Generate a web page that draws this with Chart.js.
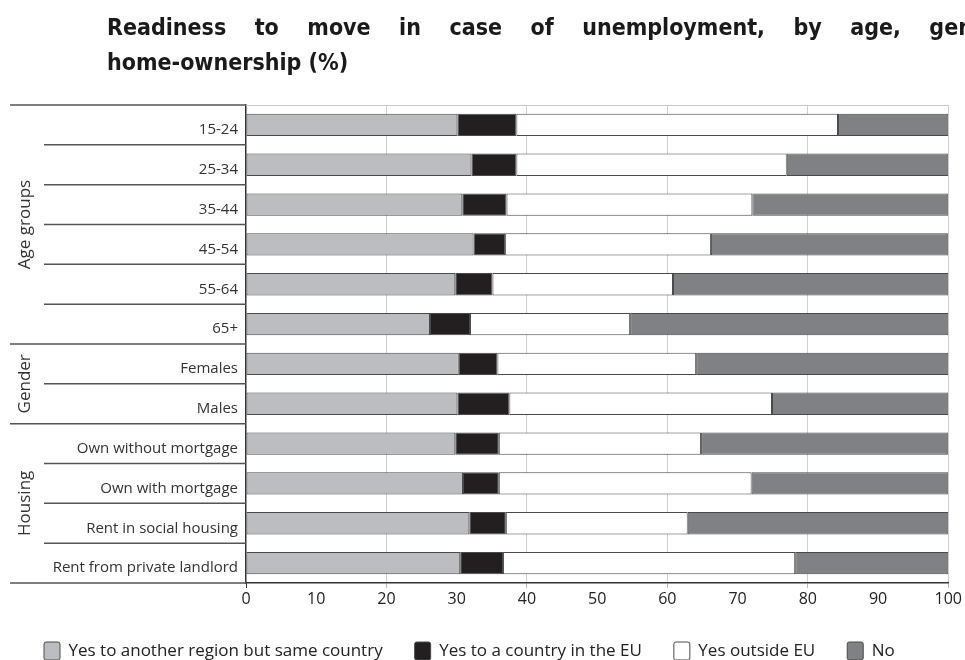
<!DOCTYPE html>
<html>
<head>
<meta charset="utf-8">
<script src="https://cdn.jsdelivr.net/npm/chart.js@4.4.0/dist/chart.umd.min.js"></script>
<style>
  html, body { margin: 0; padding: 0; background: #fff; width: 965px; height: 660px; overflow: hidden; }
  #wrap { position: absolute; left: 0; top: 0; width: 965px; height: 660px; }
  .title { position: absolute; left: 107px; font-family: "Liberation Sans Narrow", "DejaVu Sans Condensed", sans-serif; font-stretch: condensed; font-weight: bold; font-size: 23px; line-height: 34px; color: #1a1a1a; white-space: nowrap; }
  #t1 { top: 10px; width: 977px; text-align: justify; text-align-last: justify; }
  #t2 { top: 45px; }
</style>
</head>
<body>
<div id="wrap"><canvas id="moveChart" width="965" height="660"></canvas></div>
<div class="title" id="t1">Readiness to move in case of unemployment, by age, gender and</div>
<div class="title" id="t2">home-ownership (%)</div>
<script>
const categories = ['15-24', '25-34', '35-44', '45-54', '55-64', '65+',
    'Females', 'Males',
    'Own without mortgage', 'Own with mortgage', 'Rent in social housing', 'Rent from private landlord']
const groupNames = ['Age groups', 'Gender', 'Housing']
const groupSizes = [6, 2, 4]

const seriesNames = ['Yes to another region but same country', 'Yes to a country in the EU', 'Yes outside EU', 'No']
const sameCountry = [30.1, 32.1, 30.8, 32.4, 29.8, 26.2, 30.3, 30.1, 29.8, 30.9, 31.8, 30.5]
const inEU = [8.4, 6.4, 6.3, 4.5, 5.3, 5.7, 5.5, 7.4, 6.2, 5.1, 5.2, 6.1]
const outsideEU = [45.8, 38.5, 35.0, 29.3, 25.7, 22.8, 28.3, 37.4, 28.8, 36.0, 25.9, 41.6]
const no = [15.7, 23.0, 27.9, 33.8, 39.2, 45.3, 35.9, 25.1, 35.2, 28.0, 37.1, 21.8]

const xMin = 0
const xMax = 100
const xStep = 10

const colors = ['#bcbdc0', '#231f20', '#ffffff', '#808184']
const labelFont = '"Open Sans", "Noto Sans", sans-serif'

// separator lines and group names in the label column
const tableLines = {
    id: 'tableLines',
    afterDraw(chart) {
        const { ctx, chartArea } = chart
        const y = chart.scales.y
        const n = categories.length
        const half = (y.getPixelForTick(1) - y.getPixelForTick(0)) / 2
        const groupStarts = [0]
        groupSizes.forEach(s => groupStarts.push(groupStarts[groupStarts.length - 1] + s))

        ctx.save()
        // light top border of the plot
        ctx.strokeStyle = '#c8c8c8'
        ctx.lineWidth = 1
        ctx.beginPath()
        ctx.moveTo(chartArea.left, chartArea.top + 0.5)
        ctx.lineTo(chartArea.right, chartArea.top + 0.5)
        ctx.stroke()

        ctx.strokeStyle = '#555'
        ctx.lineWidth = 1.5
        for (let i = 0; i <= n; i++) {
            const py = i < n ? y.getPixelForTick(i) - half : y.getPixelForTick(n - 1) + half
            const isGroup = groupStarts.includes(i)
            ctx.beginPath()
            ctx.moveTo(isGroup ? 10 : 44, py)
            ctx.lineTo(chartArea.left, py)
            ctx.stroke()
        }

        ctx.fillStyle = '#333'
        ctx.font = '17px ' + labelFont
        ctx.textAlign = 'center'
        ctx.textBaseline = 'middle'
        groupNames.forEach((name, g) => {
            const top = y.getPixelForTick(groupStarts[g]) - half
            const bottom = y.getPixelForTick(groupStarts[g + 1] - 1) + half
            ctx.save()
            ctx.translate(25, (top + bottom) / 2)
            ctx.rotate(-Math.PI / 2)
            ctx.fillText(name, 0, 0)
            ctx.restore()
        })
        ctx.restore()
    }
}

const seriesData = [sameCountry, inEU, outsideEU, no]
const datasets = seriesNames.map((name, i) => ({
    label: name,
    data: seriesData[i],
    backgroundColor: colors[i],
    borderColor: '#4a4a4a',
    borderWidth: 1,
    borderSkipped: false,
    barPercentage: 0.56,
    categoryPercentage: 1
}))

const moveChart = new Chart('moveChart', {
    type: 'bar',
    data: { labels: categories, datasets: datasets },
    options: {
        indexAxis: 'y',
        responsive: false,
        animation: false,
        layout: { padding: { top: 105, right: 0, left: 12, bottom: 0 } },
        scales: {
            x: {
                stacked: true,
                min: xMin,
                max: xMax,
                ticks: { stepSize: xStep, color: '#222', font: { family: labelFont, size: 16, lineHeight: 1 }, padding: 3 },
                grid: {
                    color: c => (c.tick && c.tick.value % 20 === 0 && c.tick.value > 0) ? '#cfcfcf' : 'rgba(0,0,0,0)',
                    tickColor: c => (c.tick && c.tick.value % 20 === 0) ? (c.tick.value === 0 ? '#333' : '#bbb') : 'rgba(0,0,0,0)',
                    tickLength: 5
                },
                border: { display: true, color: '#333', width: 1.5 }
            },
            y: {
                stacked: true,
                grid: { display: false, drawTicks: false },
                border: { display: true, color: '#333', width: 1.5 },
                ticks: { color: '#333', font: { family: labelFont, size: 15 }, padding: 8, labelOffset: 5 },
                afterFit: scale => { scale.width = 234 }
            }
        },
        plugins: {
            legend: {
                position: 'bottom',
                align: 'start',
                maxHeight: 50,
                labels: {
                    color: '#222',
                    font: { family: labelFont, size: 17 },
                    boxWidth: 16,
                    boxHeight: 18,
                    padding: 32,
                    useBorderRadius: true,
                    borderRadius: 2
                }
            },
            tooltip: { enabled: false }
        }
    },
    plugins: [tableLines]
})
</script>
</body>
</html>
